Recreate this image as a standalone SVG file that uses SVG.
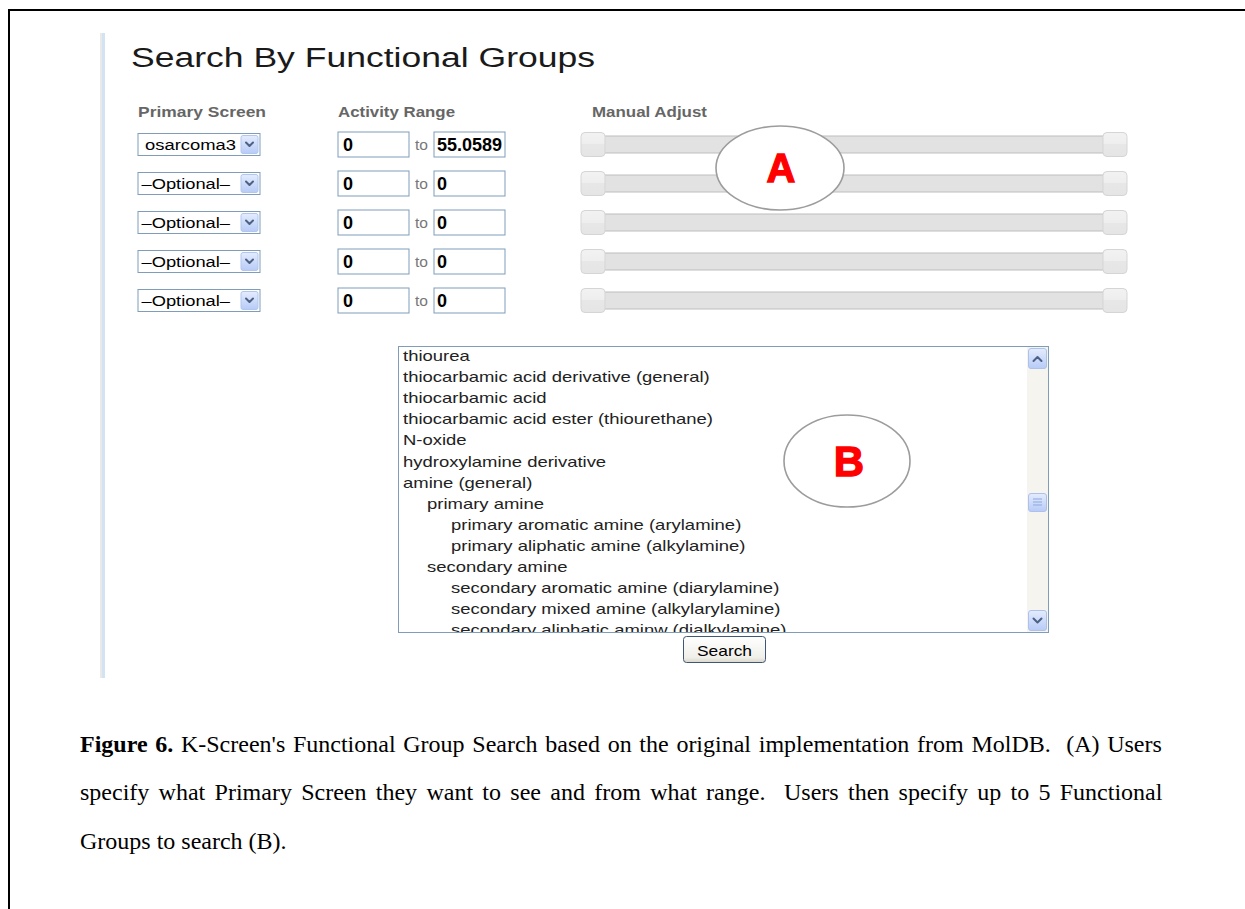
<svg xmlns="http://www.w3.org/2000/svg" width="1245" height="909" viewBox="0 0 1245 909">
  <defs>
    <style>
      .ui{font-family:"Liberation Sans",Arial,sans-serif}
      .title{font-size:27px;fill:#1a1a1a}
      .hdr{font-size:15.5px;font-weight:bold;fill:#666}
      .box{fill:#fff;stroke:#7f9db9;stroke-width:1}
      .seltxt{font-size:14px;fill:#000}
      .num{font-size:18px;font-weight:bold;fill:#000}
      .to{font-size:14px;fill:#777}
      .track{fill:#e2e2e2}
      .tline{stroke:#bdbdbd;stroke-width:1.2}
      .knob{fill:url(#knobG);stroke:#d5d5d5;stroke-width:1}
      .ell{fill:#fff;stroke:#9c9c9c;stroke-width:1.6}
      .mark{font-family:"Liberation Sans",Arial,sans-serif;font-weight:bold;fill:#f00;stroke:#f00;stroke-width:1.3;text-anchor:middle}
      .item{font-size:14px;fill:#222}
      .chev{fill:none;stroke:#4d6185;stroke-width:2;stroke-linecap:round;stroke-linejoin:round}
      .cap{font-family:"Liberation Serif","Times New Roman",serif;font-size:24px;fill:#000;white-space:pre}
    </style>
    <linearGradient id="btnG" x1="0" y1="0" x2="0" y2="1">
      <stop offset="0" stop-color="#e4ecfd"/>
      <stop offset="1" stop-color="#b7cbf7"/>
    </linearGradient>
    <linearGradient id="knobG" x1="0" y1="0" x2="0" y2="1">
      <stop offset="0" stop-color="#f2f2f2"/>
      <stop offset="0.5" stop-color="#eeeeee"/>
      <stop offset="0.5" stop-color="#e7e7e7"/>
      <stop offset="1" stop-color="#e5e5e5"/>
    </linearGradient>
    <linearGradient id="searchG" x1="0" y1="0" x2="0" y2="1">
      <stop offset="0" stop-color="#ffffff"/>
      <stop offset="0.8" stop-color="#f0efea"/>
      <stop offset="1" stop-color="#d8d6cc"/>
    </linearGradient>
    <clipPath id="listClip"><rect x="399" y="347" width="628" height="285"/></clipPath>
    <clipPath id="numClip"><rect x="435" y="-11.5" width="69" height="23"/></clipPath>
    <g id="dropBtn">
      <rect x="241" y="-9" width="17" height="18" rx="2" fill="url(#btnG)" stroke="#b3c6ef"/>
      <polyline class="chev" points="246,-2 249.5,1.5 253,-2"/>
    </g>
    <g id="slider">
      <rect class="track" x="596" y="-8.5" width="518" height="17"/>
      <line class="tline" x1="596" y1="-8.5" x2="1114" y2="-8.5"/>
      <line class="tline" x1="596" y1="8.5" x2="1114" y2="8.5"/>
      <rect class="knob" x="581" y="-12" width="24" height="24" rx="4"/>
      <rect class="knob" x="1103" y="-12" width="24" height="24" rx="4"/>
    </g>
  </defs>

  <rect width="1245" height="909" fill="#fff"/>

  <!-- page frame -->
  <g id="frame">
    <line x1="8" y1="10" x2="1245" y2="10" stroke="#000" stroke-width="2"/>
    <line x1="9" y1="9" x2="9" y2="909" stroke="#000" stroke-width="2"/>
  </g>

  <!-- side rule of the form panel -->
  <g id="panel-rule">
    <rect x="100" y="33" width="2" height="645" fill="#e9e9e9"/>
    <rect x="102" y="33" width="3" height="645" fill="#d4e3f1"/>
  </g>

  <g id="title" class="ui">
    <text class="title" x="131" y="67" textLength="464" lengthAdjust="spacingAndGlyphs">Search By Functional Groups</text>
  </g>

  <g id="headers" class="ui">
    <text class="hdr" x="138" y="117" textLength="128" lengthAdjust="spacingAndGlyphs">Primary Screen</text>
    <text class="hdr" x="338" y="117" textLength="117" lengthAdjust="spacingAndGlyphs">Activity Range</text>
    <text class="hdr" x="592" y="117" textLength="115" lengthAdjust="spacingAndGlyphs">Manual Adjust</text>
  </g>

  <!-- five screen rows: select, range inputs, slider -->
  <g id="row1" class="ui" transform="translate(0,144.5)">
    <rect class="box" x="138" y="-11" width="122" height="22"/>
    <text class="seltxt" x="145" y="5" textLength="91" lengthAdjust="spacingAndGlyphs">osarcoma3</text>
    <use href="#dropBtn"/>
    <rect class="box" x="338" y="-12.5" width="71" height="25"/>
    <text class="num" x="343" y="6.5">0</text>
    <text class="to" x="415" y="5" textLength="13" lengthAdjust="spacingAndGlyphs">to</text>
    <rect class="box" x="434" y="-12.5" width="71" height="25"/>
    <text class="num" x="437" y="6.5" clip-path="url(#numClip)">55.0589</text>
    <use href="#slider"/>
  </g>
  <g id="row2" class="ui" transform="translate(0,183.5)">
    <rect class="box" x="138" y="-11" width="122" height="22"/>
    <text class="seltxt" x="141.5" y="5" textLength="88.5" lengthAdjust="spacingAndGlyphs">–Optional–</text>
    <use href="#dropBtn"/>
    <rect class="box" x="338" y="-12.5" width="71" height="25"/>
    <text class="num" x="343" y="6.5">0</text>
    <text class="to" x="415" y="5" textLength="13" lengthAdjust="spacingAndGlyphs">to</text>
    <rect class="box" x="434" y="-12.5" width="71" height="25"/>
    <text class="num" x="437" y="6.5">0</text>
    <use href="#slider"/>
  </g>
  <g id="row3" class="ui" transform="translate(0,222.5)">
    <rect class="box" x="138" y="-11" width="122" height="22"/>
    <text class="seltxt" x="141.5" y="5" textLength="88.5" lengthAdjust="spacingAndGlyphs">–Optional–</text>
    <use href="#dropBtn"/>
    <rect class="box" x="338" y="-12.5" width="71" height="25"/>
    <text class="num" x="343" y="6.5">0</text>
    <text class="to" x="415" y="5" textLength="13" lengthAdjust="spacingAndGlyphs">to</text>
    <rect class="box" x="434" y="-12.5" width="71" height="25"/>
    <text class="num" x="437" y="6.5">0</text>
    <use href="#slider"/>
  </g>
  <g id="row4" class="ui" transform="translate(0,261.5)">
    <rect class="box" x="138" y="-11" width="122" height="22"/>
    <text class="seltxt" x="141.5" y="5" textLength="88.5" lengthAdjust="spacingAndGlyphs">–Optional–</text>
    <use href="#dropBtn"/>
    <rect class="box" x="338" y="-12.5" width="71" height="25"/>
    <text class="num" x="343" y="6.5">0</text>
    <text class="to" x="415" y="5" textLength="13" lengthAdjust="spacingAndGlyphs">to</text>
    <rect class="box" x="434" y="-12.5" width="71" height="25"/>
    <text class="num" x="437" y="6.5">0</text>
    <use href="#slider"/>
  </g>
  <g id="row5" class="ui" transform="translate(0,300.5)">
    <rect class="box" x="138" y="-11" width="122" height="22"/>
    <text class="seltxt" x="141.5" y="5" textLength="88.5" lengthAdjust="spacingAndGlyphs">–Optional–</text>
    <use href="#dropBtn"/>
    <rect class="box" x="338" y="-12.5" width="71" height="25"/>
    <text class="num" x="343" y="6.5">0</text>
    <text class="to" x="415" y="5" textLength="13" lengthAdjust="spacingAndGlyphs">to</text>
    <rect class="box" x="434" y="-12.5" width="71" height="25"/>
    <text class="num" x="437" y="6.5">0</text>
    <use href="#slider"/>
  </g>

  <g id="label-A">
    <ellipse class="ell" cx="780" cy="168" rx="64" ry="42"/>
    <text class="mark" x="781" y="182" font-size="40">A</text>
  </g>

  <!-- functional group list box -->
  <g id="group-list" class="ui">
    <rect class="box" x="398.5" y="346.5" width="650" height="286"/>
    <g clip-path="url(#listClip)">
      <text class="item" transform="translate(403,361) scale(1.32,1)">thiourea</text>
      <text class="item" transform="translate(403,382.1) scale(1.32,1)">thiocarbamic acid derivative (general)</text>
      <text class="item" transform="translate(403,403.2) scale(1.32,1)">thiocarbamic acid</text>
      <text class="item" transform="translate(403,424.3) scale(1.32,1)">thiocarbamic acid ester (thiourethane)</text>
      <text class="item" transform="translate(403,445.4) scale(1.32,1)">N-oxide</text>
      <text class="item" transform="translate(403,466.5) scale(1.32,1)">hydroxylamine derivative</text>
      <text class="item" transform="translate(403,487.6) scale(1.32,1)">amine (general)</text>
      <text class="item" transform="translate(427,508.7) scale(1.32,1)">primary amine</text>
      <text class="item" transform="translate(451,529.8) scale(1.32,1)">primary aromatic amine (arylamine)</text>
      <text class="item" transform="translate(451,550.9) scale(1.32,1)">primary aliphatic amine (alkylamine)</text>
      <text class="item" transform="translate(427,572) scale(1.32,1)">secondary amine</text>
      <text class="item" transform="translate(451,593.1) scale(1.32,1)">secondary aromatic amine (diarylamine)</text>
      <text class="item" transform="translate(451,614.2) scale(1.32,1)">secondary mixed amine (alkylarylamine)</text>
      <text class="item" transform="translate(451,635.3) scale(1.32,1)">secondary aliphatic aminw (dialkylamine)</text>
    </g>
    <!-- vertical scrollbar -->
    <rect x="1027" y="347" width="21" height="285" fill="#f5f4ef"/>
    <rect x="1028.5" y="348.5" width="18" height="20" rx="2.5" fill="url(#btnG)" stroke="#aec1ec"/>
    <polyline class="chev" points="1033.5,361 1037.5,357 1041.5,361"/>
    <rect x="1028.5" y="493.5" width="18" height="18" rx="2.5" fill="url(#btnG)" stroke="#aec1ec"/>
    <line x1="1033" y1="499" x2="1042" y2="499" stroke="#8ea7df"/>
    <line x1="1033" y1="502" x2="1042" y2="502" stroke="#8ea7df"/>
    <line x1="1033" y1="505" x2="1042" y2="505" stroke="#8ea7df"/>
    <rect x="1028.5" y="610.5" width="18" height="20" rx="2.5" fill="url(#btnG)" stroke="#aec1ec"/>
    <polyline class="chev" points="1033.5,618.5 1037.5,622.5 1041.5,618.5"/>
  </g>

  <g id="label-B">
    <ellipse class="ell" cx="847" cy="461" rx="63" ry="46"/>
    <text class="mark" x="849" y="476" font-size="42">B</text>
  </g>

  <g id="search-button" class="ui">
    <rect x="683.5" y="636.5" width="82" height="26" rx="3" fill="url(#searchG)" stroke="#3e5776"/>
    <text x="724.5" y="655.5" font-size="15" fill="#000" text-anchor="middle" textLength="55" lengthAdjust="spacingAndGlyphs">Search</text>
  </g>

  <g id="caption">
    <text class="cap" x="80" y="752" word-spacing="1.7"><tspan font-weight="bold">Figure 6.</tspan> K-Screen's Functional Group Search based on the original implementation from MolDB.  (A) Users</text>
    <text class="cap" x="80" y="800" word-spacing="3.3">specify what Primary Screen they want to see and from what range.  Users then specify up to 5 Functional</text>
    <text class="cap" x="80" y="849">Groups to search (B).</text>
  </g>
</svg>
